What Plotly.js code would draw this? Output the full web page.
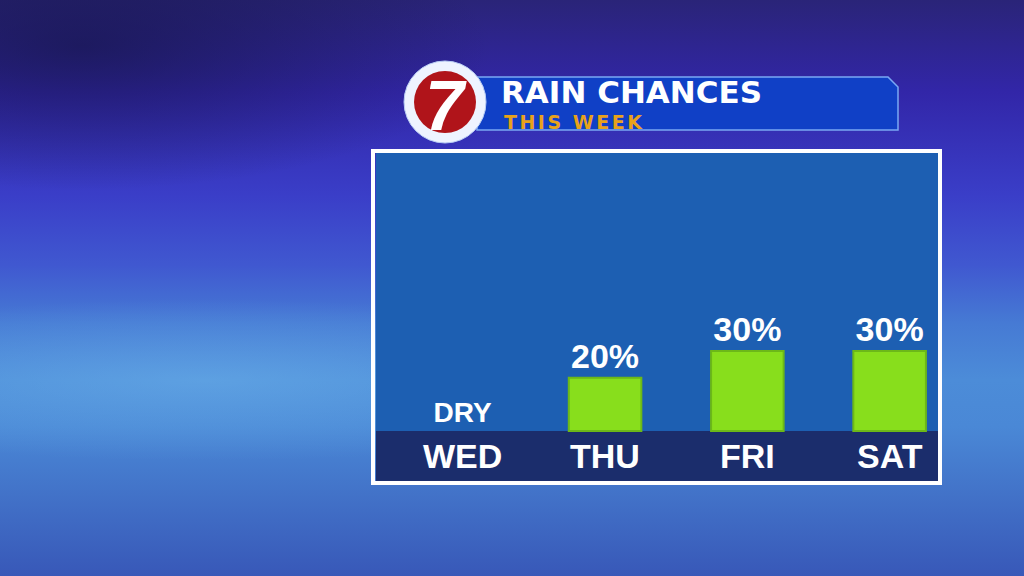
<!DOCTYPE html>
<html>
<head>
<meta charset="utf-8">
<script src="https://cdn.plot.ly/plotly-3.0.1.min.js"></script>
<style>
  html, body { margin:0; padding:0; width:1024px; height:576px; overflow:hidden; }
  body {
    background:
      radial-gradient(ellipse 50% 14% at 20% 66%, rgba(110,180,235,0.5), rgba(110,180,235,0) 100%),
      radial-gradient(ellipse 40% 25% at 8% 8%, rgba(20,20,70,0.65), rgba(20,20,70,0) 100%),
      linear-gradient(180deg, #2a2478 0%, #3226a8 16%, #3a3ec8 34%, #4058d0 46%, #467ad4 56%, #4c8cd8 66%, #4a88d6 74%, #4272c8 86%, #3858b8 100%);
  }
  #chart { width:1024px; height:576px; }
</style>
</head>
<body>
<div id="chart"></div>
<script>
// ---- data ----
const categories = ['WED', 'THU', 'FRI', 'SAT'];
const rainChance = [0, 20, 30, 30];
const valueLabels = ['DRY', '20%', '30%', '30%'];
const titleText = 'RAIN CHANCES';
const subtitleText = 'THIS WEEK';
const logoText = '7';

// ---- layout helpers (pixel -> paper) ----
const L = 376, R = 938, T = 152, B = 481;
const W = R - L, H = B - T;
const px = X => (X - L) / W;
const py = Y => (B - Y) / H;

const labelFont = 'Liberation Sans, Arial, sans-serif';

const trace = {
  type: 'bar',
  x: categories,
  y: rainChance,
  text: valueLabels,
  textposition: 'outside',
  constraintext: 'none',
  cliponaxis: false,
  textfont: { family: labelFont, size: [28, 34, 34, 34], color: '#ffffff', weight: 'bold' },
  width: 0.51,
  marker: { color: '#88de1c', line: { color: '#6cb818', width: rainChance.map(v => v > 0 ? 2 : 0) } },
  hoverinfo: 'skip'
};

const annotations = categories.map(c => ({
  x: c, y: -9.2, xref: 'x', yref: 'y',
  text: c, showarrow: false,
  xanchor: 'center', yanchor: 'middle',
  font: { family: labelFont, size: 34, color: '#ffffff', weight: 'bold' }
}));

annotations.push({
  x: px(499), y: py(92.5), xref: 'paper', yref: 'paper',
  text: titleText, showarrow: false, xanchor: 'left', yanchor: 'middle',
  font: { family: 'DejaVu Sans, sans-serif', size: 31, color: '#ffffff', weight: 'bold' }
});
annotations.push({
  x: px(502), y: py(121.8), xref: 'paper', yref: 'paper',
  text: '<span style="letter-spacing:2.5px">' + subtitleText + '</span>',
  showarrow: false, xanchor: 'left', yanchor: 'middle',
  font: { family: 'DejaVu Sans, sans-serif', size: 19, color: '#e8a21a', weight: 'bold' }
});
annotations.push({
  x: px(446), y: py(106), xref: 'paper', yref: 'paper',
  text: logoText, showarrow: false, xanchor: 'center', yanchor: 'middle',
  font: { family: labelFont, size: 70, color: '#ffffff', weight: 'bold', style: 'italic' }
});

const logoX = px(445), logoY = py(102);

const shapes = [
  // dark band under bars
  { type: 'rect', xref: 'paper', yref: 'y', x0: 0, x1: 1, y0: -18.75, y1: 0,
    fillcolor: '#1b2d6c', line: { width: 0 }, layer: 'below' },
  // panel border
  { type: 'rect', xref: 'paper', yref: 'paper',
    x0: px(373), x1: px(940), y0: py(483), y1: py(151),
    line: { color: '#ffffff', width: 4 }, fillcolor: 'rgba(0,0,0,0)' },
  // header bar
  { type: 'path', xref: 'paper', yref: 'paper',
    path: 'M' + px(477) + ',' + py(77) + ' L' + px(888) + ',' + py(77) + ' L' + px(898) + ',' + py(87) +
          ' L' + px(898) + ',' + py(130) + ' L' + px(477) + ',' + py(130) + ' Z',
    fillcolor: '#1040c6', line: { color: '#7aa8f4', width: 1.5 } },
  // logo outer circle
  { type: 'circle', xref: 'paper', yref: 'paper', xsizemode: 'pixel', ysizemode: 'pixel',
    xanchor: logoX, yanchor: logoY, x0: -41, x1: 41, y0: -41, y1: 41,
    fillcolor: '#eef3ff', line: { color: '#b8ccf4', width: 1 } },
  // logo red circle
  { type: 'circle', xref: 'paper', yref: 'paper', xsizemode: 'pixel', ysizemode: 'pixel',
    xanchor: logoX, yanchor: logoY, x0: -31, x1: 31, y0: -31, y1: 31,
    fillcolor: '#b0141a', line: { width: 0 } }
];

const layout = {
  width: 1024, height: 576,
  margin: { l: L, r: 1024 - R, t: T, b: 576 - B, pad: 0 },
  paper_bgcolor: 'rgba(0,0,0,0)',
  plot_bgcolor: '#1d5fb2',
  showlegend: false,
  xaxis: { type: 'category', range: [-0.61, 3.34], showticklabels: false, showgrid: false,
           zeroline: false, showline: false, ticks: '', fixedrange: true },
  yaxis: { range: [-18.75, 104.6], showticklabels: false, showgrid: false,
           zeroline: false, showline: false, ticks: '', fixedrange: true },
  shapes: shapes,
  annotations: annotations
};

Plotly.newPlot('chart', [trace], layout, { displayModeBar: false, staticPlot: true });
</script>
</body>
</html>
